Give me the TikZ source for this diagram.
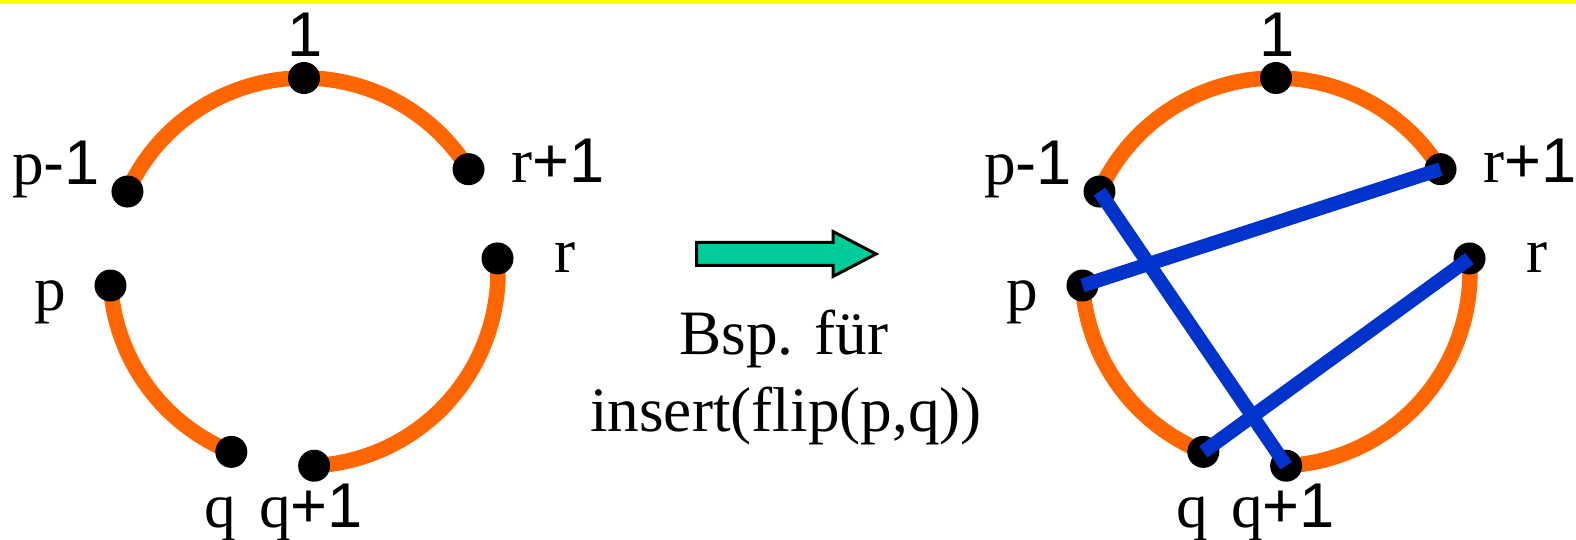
\documentclass[tikz,border=0pt]{standalone}
\usepackage{fontspec}
\setmainfont{Liberation Serif}
\newfontfamily\arialfont{Liberation Sans}
\usepackage{tikz}
\definecolor{tourorange}{RGB}{255,102,0}
\definecolor{flipblue}{RGB}{0,51,204}
\definecolor{arrowgreen}{RGB}{0,204,153}
\definecolor{bandyellow}{RGB}{255,255,0}
\tikzset{
  city/.style={circle, fill=black, minimum size=0.64cm, inner sep=0pt},
  tour/.style={line width=0.31cm, tourorange},
  flipedge/.style={line width=0.28cm, flipblue},
  lbl/.style={anchor=base, inner sep=0pt, font=\fontsize{36}{40}\selectfont},
  capt/.style={lbl},
  bigarrow/.style={draw=black, line width=0.06cm, fill=arrowgreen, line join=miter}
}
\newcommand{\sfnum}[1]{{\arialfont #1}}

\begin{document}
\begin{tikzpicture}[x=0.02cm, y=0.02cm]
\useasboundingbox (0,0) rectangle (1576,540);
\fill[bandyellow] (0,536) rectangle (1576,540);
% both tours, the right one shifted
\foreach \side/\dx in {L/0, R/972} {
  \begin{scope}[shift={({\dx+304},268)}, name prefix=\side-]
    \draw[tour] (159:194) arc[start angle=159, end angle=29, radius=194];
    \draw[tour] (184:194) arc[start angle=184, end angle=248, radius=194];
    \draw[tour] (273:194) arc[start angle=273, end angle=364, radius=194];
    \node[city] (one) at (90:194) {};
    \node[city] (pm) at (155.5:194) {};
    \node[city] (rp) at (32:194) {};
    \node[city] (r) at (4:194) {};
    \node[city] (p) at (184:194) {};
    \node[city] (q) at (248:194) {};
    \node[city] (qp) at (273:194) {};
    \node[lbl] (one-l) at (1,215) {\sfnum{1}};
    \node[lbl] (pm-l) at (-248,87) {p\sfnum{-1}};
    \node[lbl] (rp-l) at (254,89) {r\sfnum{+1}};
    \node[lbl] (r-l) at (261,-1) {r};
    \node[lbl] (p-l) at (-254,-39) {p};
    \node[lbl] (q-l) at (-84,-256) {q};
    \node[lbl] (qp-l) at (7,-256) {q\sfnum{+1}};
  \end{scope}
}
% new edges after the flip
\draw[flipedge] (R-pm.center) -- (R-qp.center);
\draw[flipedge] (R-p.center) -- (R-rp.center);
\draw[flipedge] (R-q.center) -- (R-r.center);
% arrow and caption
\draw[bigarrow] (696.5,274.5) -- (833,274.5) -- (833,263.5) -- (876,286)
  -- (833,308.5) -- (833,297.5) -- (696.5,297.5) -- cycle;
\node[capt] (capt1) at (784,185) {Bsp. für};
\node[capt] (capt2) at (786,108) {insert(flip(p,q))};
\end{tikzpicture}
\end{document}
